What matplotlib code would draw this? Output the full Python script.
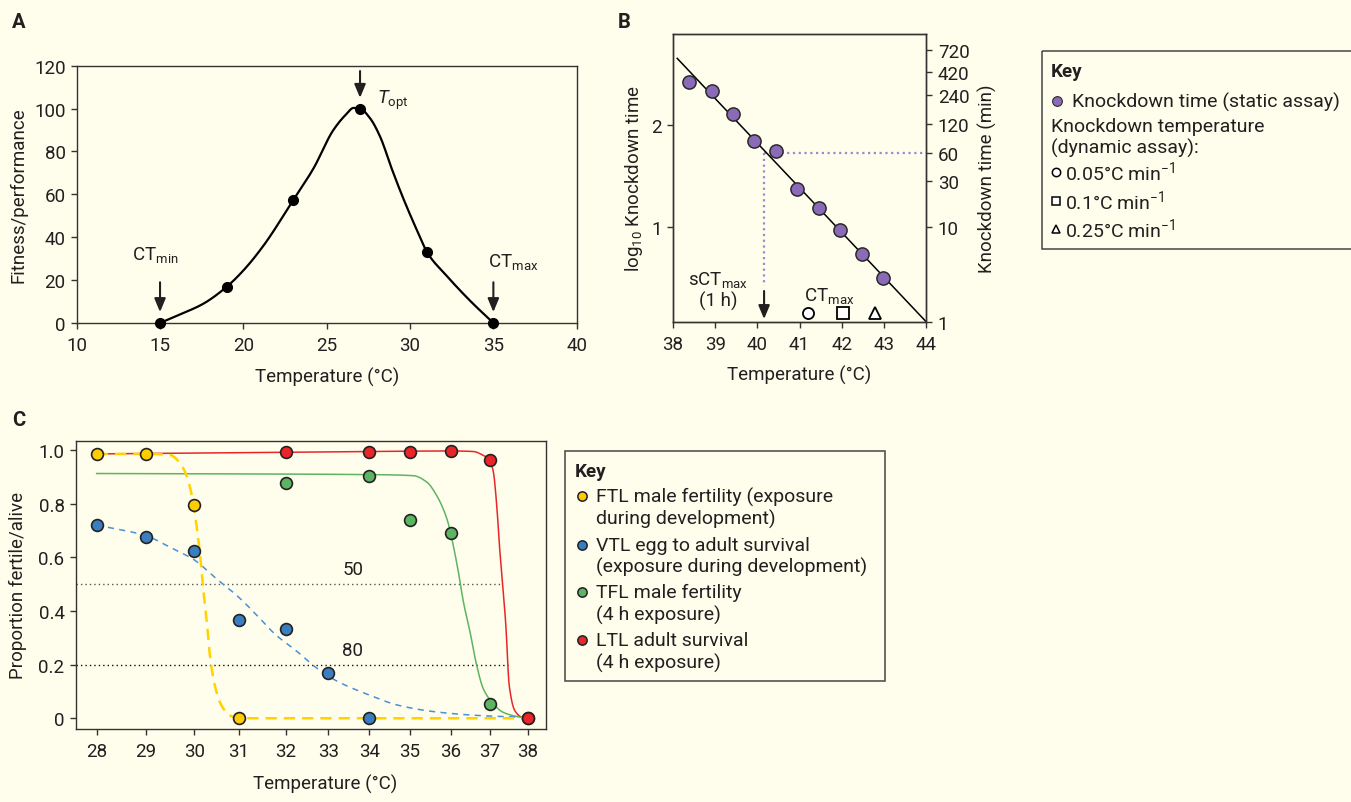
import numpy as np
import matplotlib
matplotlib.use("Agg")
import matplotlib.pyplot as plt
from matplotlib.patches import Rectangle
from matplotlib.ticker import NullLocator

# ---------------- data ----------------
# A: thermal performance curve
a_temp = [15, 19, 23, 27, 31, 35]
a_perf = [0, 16.9, 57.4, 100, 33.2, 0]
a_curve_temp = [15, 16.3, 17.6, 19, 20.0, 21.2, 23, 24.2, 25.4, 26.2, 26.6, 27,
                27.6, 28.2, 28.9, 29.6, 30.6, 31, 32.2, 33.6, 35]
a_curve_perf = [0, 4.3, 9.0, 16.9, 24.5, 36, 57.4, 72, 90.0, 97.6, 100.3, 100,
                95.5, 87, 72, 58, 40, 33.2, 22, 10.4, 0]

# B: knockdown time vs temperature
b_temp = [38.39, 38.92, 39.43, 39.93, 40.44, 40.95, 41.46, 41.96, 42.48, 42.98]
b_logkd = [2.42, 2.33, 2.10, 1.84, 1.74, 1.37, 1.18, 0.97, 0.73, 0.50]
b_fit_temp = [38.1, 44.0]
b_fit_logkd = [2.65, 0.07]
b_sct_temp = 40.16
b_sct_level = 1.72          # 60 min
b_ctmax_temp = [41.19, 42.02, 42.80]
b_ctmax_marker = ["o", "s", "^"]
b_right_ticks = [1, 10, 30, 60, 120, 240, 420, 720]

# C: thermal limits
c_ticks = list(range(28, 39))
ftl_temp = [28, 29, 30, 31]
ftl_prop = [0.985, 0.985, 0.795, 0.0]
vtl_temp = [28, 29, 30, 31, 32, 33, 34]
vtl_prop = [0.72, 0.677, 0.624, 0.365, 0.333, 0.169, 0.002]
tfl_temp = [32, 34, 35, 36, 37, 38]
tfl_prop = [0.876, 0.904, 0.737, 0.691, 0.053, 0.0]
ltl_temp = [32, 34, 35, 36, 37, 38]
ltl_prop = [0.994, 0.994, 0.994, 0.996, 0.964, 0.0]

ftl_curve_t = [28, 29, 29.5, 29.69, 29.84, 29.95, 30.04, 30.13, 30.2, 30.28,
               30.35, 30.46, 30.61, 30.8, 31, 38]
ftl_curve_p = [0.985, 0.985, 0.981, 0.954, 0.904, 0.83, 0.73, 0.606, 0.482,
               0.358, 0.233, 0.121, 0.047, 0.01, 0, 0]
vtl_curve_t = [28, 29, 29.5, 30, 30.5, 31, 31.4, 31.8, 32.33, 32.65, 33.12,
               33.94, 34.75, 35.73, 36.74, 37.8]
vtl_curve_p = [0.72, 0.68, 0.637, 0.59, 0.519, 0.45, 0.38, 0.308, 0.24, 0.196,
               0.146, 0.09, 0.047, 0.022, 0.01, 0.004]
tfl_curve_t = [28, 34, 35.08, 35.41, 35.65, 35.9, 36.06, 36.19, 36.32, 36.49,
               36.66, 36.83, 37.05, 37.35, 37.8, 38]
tfl_curve_p = [0.912, 0.908, 0.904, 0.88, 0.83, 0.743, 0.643, 0.544, 0.432,
               0.32, 0.196, 0.109, 0.06, 0.022, 0.004, 0]
ltl_curve_t = [28, 32, 34, 36, 36.57, 36.81, 37, 37.09, 37.18, 37.25, 37.34,
               37.42, 37.51, 37.66, 37.84, 38]
ltl_curve_p = [0.985, 0.991, 0.994, 0.996, 0.994, 0.981, 0.96, 0.917, 0.79,
               0.643, 0.494, 0.345, 0.121, 0.028, 0.004, 0]

c_ref_levels = [0.5, 0.2]
c_ref_end = [37.31, 37.49]
c_ref_labels = ["50", "80"]

key_c_labels = ["FTL male fertility (exposure\nduring development)",
                "VTL egg to adult survival\n(exposure during development)",
                "TFL male fertility\n(4 h exposure)",
                "LTL adult survival\n(4 h exposure)"]

# ---------------- style ----------------
BG = "#fffdec"
INK = "#231f20"
YEL, BLU, GRN, RED = "#ffcc00", "#3a7ec2", "#5db462", "#e8262a"
PURP = "#8b6bb8"
FS = 13.5

plt.rcParams["font.family"] = ["Roboto", "DejaVu Sans"]
plt.rcParams["mathtext.fontset"] = "custom"
plt.rcParams["mathtext.rm"] = "Roboto"
plt.rcParams["mathtext.it"] = "Roboto:italic"
plt.rcParams["font.size"] = FS
plt.rcParams["text.color"] = INK
plt.rcParams["axes.edgecolor"] = "#333333"
plt.rcParams["axes.labelcolor"] = INK
plt.rcParams["xtick.color"] = "#333333"
plt.rcParams["ytick.color"] = "#333333"
plt.rcParams["xtick.labelcolor"] = INK
plt.rcParams["ytick.labelcolor"] = INK
plt.rcParams["axes.linewidth"] = 1.0
plt.rcParams["xtick.major.width"] = 1.0
plt.rcParams["ytick.major.width"] = 1.0
plt.rcParams["xtick.major.size"] = 4.5
plt.rcParams["ytick.major.size"] = 4.5
plt.rcParams["xtick.major.pad"] = 5
plt.rcParams["ytick.major.pad"] = 3.5


def pchip(x, y, n=500):
    # smooth monotone line through the read-off curve vertices
    x = np.asarray(x, float)
    y = np.asarray(y, float)
    h = np.diff(x)
    d = np.diff(y) / h
    m = np.zeros_like(y)
    for k in range(1, len(x) - 1):
        if d[k - 1] * d[k] > 0:
            w1 = 2 * h[k] + h[k - 1]
            w2 = h[k] + 2 * h[k - 1]
            m[k] = (w1 + w2) / (w1 / d[k - 1] + w2 / d[k])
    m[0], m[-1] = d[0], d[-1]
    xs = np.linspace(x[0], x[-1], n)
    k = np.clip(np.searchsorted(x, xs) - 1, 0, len(h) - 1)
    t = (xs - x[k]) / h[k]
    ys = ((2 * t**3 - 3 * t**2 + 1) * y[k] + (t**3 - 2 * t**2 + t) * h[k] * m[k]
          + (-2 * t**3 + 3 * t**2) * y[k + 1] + (t**3 - t**2) * h[k] * m[k + 1])
    return xs, ys


W, H = 1351, 803
fig = plt.figure(figsize=(W / 100, H / 100), dpi=100, facecolor=BG)


def px_axes(l, t, r, b):
    ax = fig.add_axes([l / W, 1 - b / H, (r - l) / W, (b - t) / H])
    ax.set_facecolor("none")
    return ax


def center_labels(ax, xl, yl):
    ax.xaxis.label.set_va("center")
    ax.yaxis.label.set_va("center")
    ax.xaxis.set_label_coords(*xl)
    ax.yaxis.set_label_coords(*yl)


arrow = dict(arrowstyle="-|>,head_length=0.6,head_width=0.25", color=INK,
             lw=1.5, shrinkA=0, shrinkB=0)

# ---------------- panel A ----------------
ax_a = px_axes(76.7, 66.7, 576.7, 324)
cx, cy = pchip(a_curve_temp, a_curve_perf)
ax_a.plot(cx, cy, color="black", lw=1.6, clip_on=False)
ax_a.plot(a_temp, a_perf, "o", color="black", ms=7, clip_on=False, zorder=3)
ax_a.set_xlim(10, 40)
ax_a.set_ylim(0, 120)
ax_a.set_xticks(range(10, 41, 5))
ax_a.set_yticks(range(0, 121, 20))
ax_a.set_xlabel("Temperature (°C)")
ax_a.set_ylabel("Fitness/performance")
center_labels(ax_a, (0.5, -0.206), (-0.1174, 0.5))
for t in (15, 35):
    ax_a.annotate("", xy=(t, 5.1), xytext=(t, 19), arrowprops=arrow)
ax_a.annotate("", xy=(27, 105), xytext=(27, 117.5), arrowprops=arrow,
              annotation_clip=False)
ax_a.text(14.7, 29.8, r"CT$_\mathregular{min}$", ha="center", va="baseline")
ax_a.text(36.17, 26.7, r"CT$_\mathregular{max}$", ha="center", va="baseline")
ax_a.text(28.0, 102.6, r"$T_\mathregular{opt}$", ha="left", va="baseline")

# ---------------- panel B ----------------
ax_b = px_axes(673, 35, 926, 323)
ax_b.plot(b_fit_temp, b_fit_logkd, color="black", lw=1.1, zorder=2)
ax_b.plot([b_sct_temp, 44], [b_sct_level, b_sct_level], color="#9a8ad0",
          lw=1.6, ls=(0, (1, 1.6)), zorder=1)
ax_b.plot([b_sct_temp, b_sct_temp], [b_sct_level, 0.42], color="#9a8ad0",
          lw=1.6, ls=(0, (1, 1.6)), zorder=1)
ax_b.plot(b_temp, b_logkd, "o", color=PURP, mec="#2a2a2a", mew=1.1, ms=9.5,
          zorder=3)
ax_b.annotate("", xy=(b_sct_temp, 0.095), xytext=(b_sct_temp, 0.37),
              arrowprops=arrow)
for t, mk in zip(b_ctmax_temp, b_ctmax_marker):
    ax_b.plot(t, 0.154, mk, mfc="white", mec="black", mew=1.3, ms=8)
ax_b.text(39.07, 0.438, r"sCT$_\mathregular{max}$", ha="center", va="baseline")
ax_b.text(39.07, 0.225, "(1 h)", ha="center", va="baseline")
ax_b.text(41.70, 0.284, r"CT$_\mathregular{max}$", ha="center", va="baseline")
ax_b.set_xlim(38, 44)
ax_b.set_ylim(0.066, 2.889)
ax_b.set_xticks(range(38, 45))
ax_b.set_yticks([1, 2])
ax_b.set_xlabel("Temperature (°C)")
ax_b.set_ylabel(r"log$_\mathregular{10}$ Knockdown time")
center_labels(ax_b, (0.5, -0.181), (-0.155, 0.5))

ax_b2 = ax_b.twinx()
ax_b2.set_yscale("log")
ax_b2.set_ylim(1, 10 ** 3.022)
ax_b2.set_yticks(b_right_ticks, labels=[str(v) for v in b_right_ticks])
ax_b2.yaxis.set_minor_locator(NullLocator())
ax_b2.tick_params(axis="y", pad=4)
ax_b2.set_ylabel("Knockdown time (min)")
ax_b2.yaxis.label.set_va("center")
ax_b2.yaxis.set_label_coords(1.241, 0.5)

# ---------------- panel C ----------------
C_PX = np.array([96.7, 146, 194.3, 239, 286, 328.3, 369.3, 410, 451, 490, 527.7])
C_T = np.array(c_ticks, float)


def c_fwd(t):
    t = np.asarray(t, float)
    lo = C_PX[0] + (t - C_T[0]) * (C_PX[1] - C_PX[0])
    hi = C_PX[-1] + (t - C_T[-1]) * (C_PX[-1] - C_PX[-2])
    return np.where(t < C_T[0], lo, np.where(t > C_T[-1], hi, np.interp(t, C_T, C_PX)))


def c_inv(p):
    p = np.asarray(p, float)
    lo = C_T[0] + (p - C_PX[0]) / (C_PX[1] - C_PX[0])
    hi = C_T[-1] + (p - C_PX[-1]) / (C_PX[-1] - C_PX[-2])
    return np.where(p < C_PX[0], lo, np.where(p > C_PX[-1], hi, np.interp(p, C_PX, C_T)))


ax_c = px_axes(75.7, 441.5, 546, 730)
ax_c.set_xscale("function", functions=(c_fwd, c_inv))
ax_c.set_xlim(27.574, 38.485)
ax_c.set_ylim(-0.04, 1.035)

for lvl, end, lab, col in zip(c_ref_levels, c_ref_end, c_ref_labels,
                              ["#555555", "#111111"]):
    ax_c.plot([27.574, end], [lvl, lvl], color=col, lw=1.0, ls=(0, (1, 2.2)),
              zorder=1)
    ax_c.text(33.6, lvl + 0.055, lab, ha="center", va="center")

sx, sy = pchip(ltl_curve_t, ltl_curve_p)
ax_c.plot(sx, sy, color=RED, lw=1.1, zorder=2)
sx, sy = pchip(tfl_curve_t, tfl_curve_p)
ax_c.plot(sx, sy, color=GRN, lw=1.1, zorder=2)
sx, sy = pchip(vtl_curve_t, vtl_curve_p)
ax_c.plot(sx, sy, color="#4a90d9", lw=1.1, ls=(0, (4, 3.5)), zorder=2)
sx, sy = pchip(ftl_curve_t, ftl_curve_p)
ax_c.plot(sx, sy, color="#ffd200", lw=1.8, ls=(0, (4.5, 2.8)), zorder=2)

mk = dict(ls="none", marker="o", ms=8.5, mec="#222222", mew=1.2, zorder=4)
ax_c.plot(vtl_temp, vtl_prop, mfc=BLU, **mk)
ax_c.plot(tfl_temp, tfl_prop, mfc=GRN, **mk)
ax_c.plot(ftl_temp, ftl_prop, mfc=YEL, **mk)
ax_c.plot(ltl_temp, ltl_prop, mfc=RED, **mk)

ax_c.set_xticks(c_ticks)
ax_c.xaxis.set_minor_locator(NullLocator())
ax_c.set_yticks([0, 0.2, 0.4, 0.6, 0.8, 1.0], labels=["0", "0.2", "0.4", "0.6", "0.8", "1.0"])
ax_c.set_xlabel("Temperature (°C)")
ax_c.set_ylabel("Proportion fertile/alive")
center_labels(ax_c, (0.53, -0.19), (-0.1227, 0.5))

# ---------------- overlay: panel letters and keys ----------------
ov = fig.add_axes([0, 0, 1, 1])
ov.set_xlim(0, W)
ov.set_ylim(H, 0)
ov.axis("off")

for lab, x, y in [("A", 19, 22), ("B", 624, 22), ("C", 19, 421)]:
    ov.text(x, y, lab, fontsize=14.5, fontweight="bold", ha="center", va="center")

# key for B
ov.add_patch(Rectangle((1042, 52), 320, 198, fill=False, ec="#444444", lw=1.1))
ov.text(1051, 72, "Key", fontweight="bold", va="center")
ov.plot(1057, 102, "o", color=PURP, mec="#2a2a2a", mew=0.8, ms=7)
ov.text(1072, 102, "Knockdown time (static assay)", va="center", fontsize=14)
ov.text(1051, 127, "Knockdown temperature", va="center", fontsize=14)
ov.text(1051, 148, "(dynamic assay):", va="center", fontsize=14)
for y, m, lab in [(173, "o", "0.05"), (202, "s", "0.1"), (230, "^", "0.25")]:
    ov.plot(1056, y, m, mfc="white", mec="black", mew=1.1, ms=6)
    ov.text(1065, y + 6.8, lab + r"°C min$^\mathregular{-1}$", va="baseline",
            fontsize=14)

# key for C
ov.add_patch(Rectangle((565, 451.7), 320, 230, fill=False, ec="#444444", lw=1.1))
ov.text(575, 471.7, "Key", fontweight="bold", va="center")
for y, col, lab in zip([508.5, 557, 604.5, 652.5], [YEL, BLU, GRN, RED], key_c_labels):
    ov.plot(581.7, y - 11.2, "o", mfc=col, mec="#222222", mew=1.1, ms=6.7)
    ov.text(596, y, lab, va="center", linespacing=1.2, fontsize=14)

fig.savefig("out.png", dpi=100, facecolor=BG)
